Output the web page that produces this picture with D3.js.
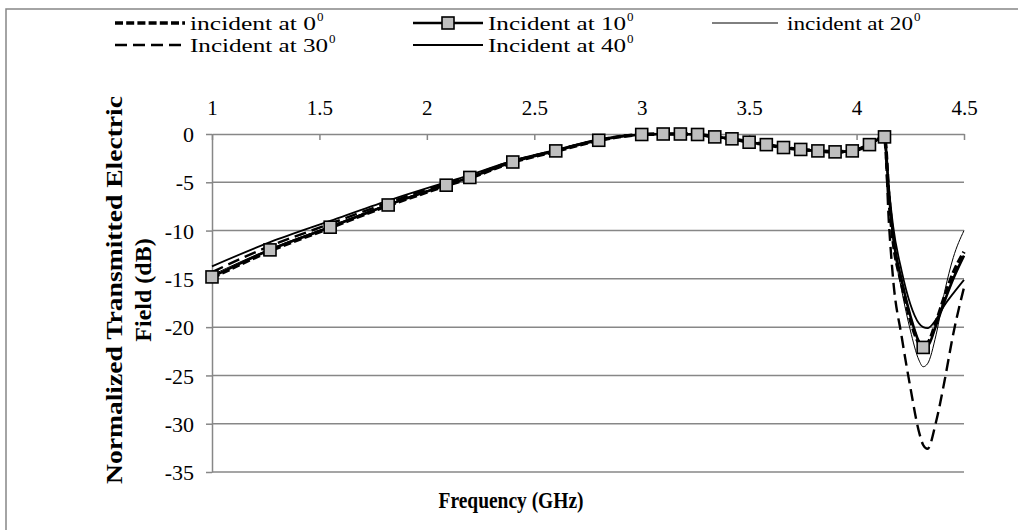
<!DOCTYPE html>
<html><head><meta charset="utf-8">
<script src="https://cdn.jsdelivr.net/npm/d3@7"></script>
<style>
body{margin:0;background:#fff}svg{display:block}
svg text{font-family:"Liberation Serif","Times New Roman",Tinos,"DejaVu Serif",serif;}
</style>
</head><body>
<svg id="chart" width="1018" height="530"></svg>
<script>
// ---- data ----
const freq = [1.0, 1.27, 1.55, 1.82, 2.09, 2.2, 2.4, 2.6, 2.8, 3.0, 3.1, 3.18, 3.26, 3.34, 3.42, 3.5, 3.58, 3.66, 3.74, 3.82, 3.9, 3.98, 4.06, 4.13, 4.15, 4.17, 4.21, 4.25, 4.29, 4.31, 4.33, 4.37, 4.41, 4.45, 4.5];
const markerFreq = [1.0, 1.27, 1.55, 1.82, 2.09, 2.2, 2.4, 2.6, 2.8, 3.0, 3.1, 3.18, 3.26, 3.34, 3.42, 3.5, 3.58, 3.66, 3.74, 3.82, 3.9, 3.98, 4.06, 4.13, 4.31];
const db0  = [-14.9, -12.1, -9.7, -7.4, -5.35, -4.55, -2.92, -1.78, -0.66, -0.05, 0, 0, -0.05, -0.3, -0.5, -0.85, -1.1, -1.4, -1.6, -1.75, -1.85, -1.75, -1.1, -0.3, -6.5, -11, -15.5, -19.2, -21.6, -21.9, -21.7, -19.5, -16.8, -14.4, -12.2];
const db10 = [-14.8, -12.0, -9.65, -7.35, -5.3, -4.5, -2.9, -1.75, -0.65, -0.05, 0, 0, -0.05, -0.3, -0.5, -0.85, -1.1, -1.4, -1.6, -1.75, -1.85, -1.75, -1.1, -0.3, -6, -10.5, -15.2, -18.8, -21.5, -22.1, -22.0, -19.8, -17.3, -15.0, -12.6];
const db20 = [-14.6, -11.9, -9.55, -7.25, -5.2, -4.45, -2.85, -1.72, -0.62, -0.05, 0, 0, -0.05, -0.3, -0.5, -0.85, -1.1, -1.4, -1.6, -1.75, -1.85, -1.75, -1.1, -0.3, -6.5, -11, -16.2, -20.3, -23.4, -24.1, -23.8, -20.8, -16.3, -12.8, -10.0];
const db30 = [-14.3, -11.6, -9.3, -7.1, -5.1, -4.35, -2.8, -1.7, -0.6, -0.05, 0, 0, -0.05, -0.3, -0.5, -0.85, -1.1, -1.4, -1.6, -1.75, -1.85, -1.75, -1.1, -0.3, -9, -15, -21, -26.2, -30.8, -32.2, -32.6, -29.8, -25.5, -20.7, -15.9];
const db40 = [-13.7, -11.2, -9.0, -6.9, -5.0, -4.25, -2.75, -1.65, -0.55, -0.05, 0, 0, -0.05, -0.3, -0.5, -0.85, -1.1, -1.4, -1.6, -1.75, -1.85, -1.75, -1.1, -0.3, -5.5, -9.5, -14.2, -17.6, -19.6, -20.0, -20.1, -19.2, -17.7, -16.5, -15.1];
const seriesLabels = ["incident at 0", "Incident at 10", "incident at 20", "Incident at 30", "Incident at 40"];
const degreeMark = "0";
const xTicks = [1, 1.5, 2, 2.5, 3, 3.5, 4, 4.5];
const yTicks = [0, -5, -10, -15, -20, -25, -30, -35];
const xTitle = "Frequency (GHz)";
const yTitleLines = ["Normalized Transmitted Electric", "Field (dB)"];

// ---- styles ----
const GREY = "#878787";
const SERIF = '"Liberation Serif","Times New Roman",Tinos,serif';
const styles = [
  {w: 3.6, dash: "8,3.2"},
  {w: 2.6, dash: null, marker: true},
  {w: 1, dash: null},
  {w: 2.4, dash: "12,6"},
  {w: 1.8, dash: null}
];
const seriesData = [db0, db10, db20, db30, db40];

const svg = d3.select("#chart");
const x = d3.scaleLinear().domain([1, 4.5]).range([212, 964]);
const y = d3.scaleLinear().domain([-35, 0]).range([472, 134]);

// outer border
svg.append("rect").attr("x", 6).attr("y", 9).attr("width", 1030).attr("height", 540)
  .attr("fill", "none").attr("stroke", GREY).attr("stroke-width", 1.5);

// gridlines
svg.append("g").selectAll("line").data(yTicks.filter(d => d !== 0)).join("line")
  .attr("x1", x(1)).attr("x2", x(4.5)).attr("y1", d => y(d)).attr("y2", d => y(d))
  .attr("stroke", GREY).attr("stroke-width", 1.5);

// y axis
const yAxis = svg.append("g").attr("transform", `translate(${x(1)},0)`)
  .call(d3.axisLeft(y).tickValues(yTicks).tickSize(6).tickSizeOuter(0));
yAxis.attr("font-family", null);
yAxis.select(".domain").attr("stroke", GREY).attr("stroke-width", 1.5);
yAxis.selectAll(".tick line").attr("stroke", GREY).attr("stroke-width", 1.5);
yAxis.selectAll(".tick text").attr("x", -18).attr("dy", "0.35em")
  .style("font-family", SERIF).attr("font-size", 22).attr("fill", "#000")
  .text(d => d < 0 ? "-" + Math.abs(d) : d);

// x axis at y=0, labels above, ticks below
const xAxis = svg.append("g").attr("transform", `translate(0,${y(0)})`)
  .call(d3.axisBottom(x).tickValues(xTicks).tickSize(6).tickSizeOuter(0).tickFormat(d => d));
xAxis.attr("font-family", null);
xAxis.select(".domain").attr("stroke", GREY).attr("stroke-width", 1.5);
xAxis.selectAll(".tick line").attr("stroke", GREY).attr("stroke-width", 1.5);
xAxis.selectAll(".tick text").attr("y", -19).attr("dy", 0)
  .style("font-family", SERIF).attr("font-size", 21).attr("fill", "#000");

// series
const line = d3.line().x(d => x(d[0])).y(d => y(d[1])).curve(d3.curveMonotoneX);
const order = [4, 3, 2, 0, 1];
order.forEach(i => {
  const pts = freq.map((f, k) => [f, seriesData[i][k]]);
  const s = styles[i];
  svg.append("path").datum(pts).attr("d", line).attr("fill", "none")
    .attr("stroke", "#000").attr("stroke-width", s.w)
    .attr("stroke-dasharray", s.dash).attr("stroke-linejoin", "round");
  if (s.marker) {
    const mk = pts.filter(p => markerFreq.includes(p[0]));
    svg.append("g").selectAll("rect").data(mk).join("rect")
      .attr("x", d => x(d[0]) - 6).attr("y", d => y(d[1]) - 6)
      .attr("width", 12).attr("height", 12)
      .attr("fill", "#bfbfbf").attr("stroke", "#000").attr("stroke-width", 1.6);
  }
});

// legend
const legendPos = [
  {lx: 115, row: 0, tl: 126}, {lx: 413, row: 0, tl: 138}, {lx: 712, row: 0, len: 66, tl: 126},
  {lx: 115, row: 1, tl: 138}, {lx: 413, row: 1, tl: 138}
];
const rowMid = [23, 45];
seriesLabels.forEach((lab, i) => {
  const p = legendPos[i], s = styles[i];
  const len = p.len || 70;
  const ly = rowMid[p.row];
  const g = svg.append("g");
  g.append("line").attr("x1", p.lx).attr("x2", p.lx + len).attr("y1", ly).attr("y2", ly)
    .attr("stroke", "#000").attr("stroke-width", s.w).attr("stroke-dasharray", s.dash);
  if (s.marker) {
    g.append("rect").attr("x", p.lx + len / 2 - 6).attr("y", ly - 6).attr("width", 12).attr("height", 12)
      .attr("fill", "#bfbfbf").attr("stroke", "#000").attr("stroke-width", 1.6);
  }
  const tx = p.lx + len + 5 + (p.len ? 4 : 0);
  g.append("text").attr("x", tx).attr("y", ly + 7)
    .attr("font-size", 19).attr("fill", "#000")
    .attr("textLength", p.tl).attr("lengthAdjust", "spacingAndGlyphs").text(lab);
  g.append("text").attr("x", tx + p.tl + 1).attr("y", ly - 2)
    .attr("font-size", 13).attr("fill", "#000").text(degreeMark);
});

// axis titles
svg.append("text").attr("x", 511).attr("y", 508).attr("text-anchor", "middle")
  .attr("font-weight", "bold").attr("font-size", 24)
  .attr("textLength", 145).attr("lengthAdjust", "spacingAndGlyphs").text(xTitle);
const yt = svg.append("g").attr("transform", `translate(0,290)rotate(-90)`);
yt.append("text").attr("x", 0).attr("y", 122).attr("text-anchor", "middle")
  .attr("font-weight", "bold").attr("font-size", 24)
  .attr("textLength", 388).attr("lengthAdjust", "spacingAndGlyphs").text(yTitleLines[0]);
yt.append("text").attr("x", 0).attr("y", 151).attr("text-anchor", "middle")
  .attr("font-weight", "bold").attr("font-size", 24).text(yTitleLines[1]);
</script>
</body></html>
